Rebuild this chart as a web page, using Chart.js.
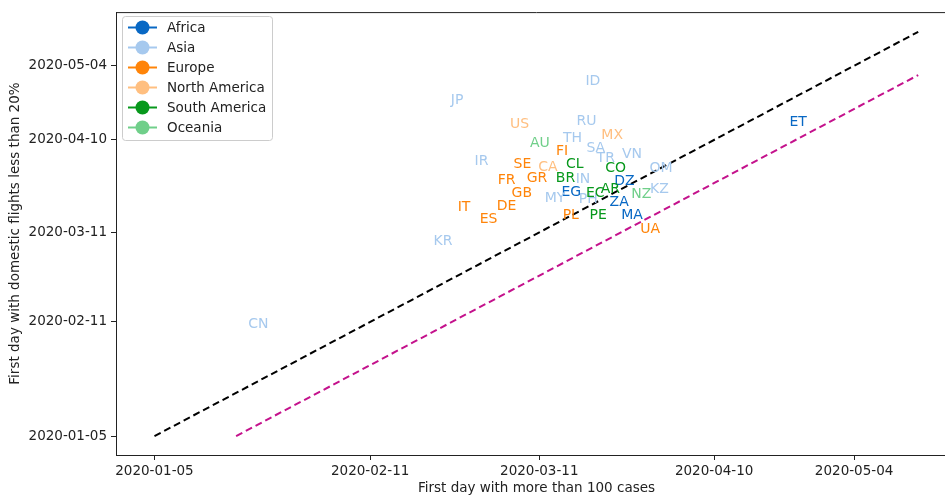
<!DOCTYPE html>
<html>
<head>
<meta charset="utf-8">
<script src="https://cdn.jsdelivr.net/npm/chart.js@4.4.0/dist/chart.umd.min.js"></script>
<style>
  html, body { margin: 0; padding: 0; background: #fff; overflow: hidden; }
</style>
</head>
<body>
<canvas id="chart" width="957" height="500"></canvas>
<script>
// all values are days counted from 2020-01-05
const tickDays = [0, 37, 66, 96, 120];
const tickLabels = ['2020-01-05', '2020-02-11', '2020-03-11', '2020-04-10', '2020-05-04'];

const continents = ['Africa', 'Asia', 'Europe', 'North America', 'South America', 'Oceania'];
const continentColors = ['#0868c4', '#a6c9ee', '#ff8409', '#ffbf80', '#07981c', '#70cf8a'];

const africaCodes = ['DZ', 'EG', 'ZA', 'MA', 'ET'];
const africaCases = [80.6, 71.5, 79.7, 81.9, 110.4];
const africaFlights = [82.4, 79.1, 75.9, 71.6, 101.7];

const asiaCodes = ['CN', 'JP', 'ID', 'KR', 'IR', 'RU', 'TH', 'SA', 'TR', 'VN', 'OM', 'IN', 'MY', 'PH', 'KZ'];
const asiaCases = [17.8, 51.9, 75.2, 49.5, 56.1, 74.1, 71.7, 75.7, 77.4, 81.9, 86.9, 73.5, 68.7, 74.4, 86.6];
const asiaFlights = [36.1, 108.7, 114.8, 63.0, 89.0, 101.9, 96.5, 93.1, 89.9, 91.2, 86.9, 83.1, 77.0, 76.7, 79.9];

const europeCodes = ['FI', 'SE', 'FR', 'GR', 'GB', 'IT', 'DE', 'ES', 'PL', 'UA'];
const europeCases = [69.9, 63.1, 60.4, 65.6, 63.0, 53.1, 60.4, 57.3, 71.4, 85.0];
const europeFlights = [92.3, 88.0, 82.9, 83.5, 78.8, 74.0, 74.5, 70.2, 71.6, 67.0];

const northAmericaCodes = ['US', 'MX', 'CA'];
const northAmericaCases = [62.6, 78.5, 67.5];
const northAmericaFlights = [100.9, 97.4, 87.1];

const southAmericaCodes = ['CL', 'CO', 'BR', 'EC', 'AR', 'PE'];
const southAmericaCases = [72.1, 79.1, 70.5, 75.6, 78.2, 76.1];
const southAmericaFlights = [88.0, 86.7, 83.6, 78.6, 79.9, 71.6];

const oceaniaCodes = ['AU', 'NZ'];
const oceaniaCases = [66.1, 83.5];
const oceaniaFlights = [94.8, 78.3];

// reference lines: same day, and flights 14 days earlier
const sameDayX = [0, 131];
const sameDayY = [0, 131];
const lagX = [14, 131];
const lagY = [0, 117];

const groups = [
    [africaCodes, africaCases, africaFlights],
    [asiaCodes, asiaCases, asiaFlights],
    [europeCodes, europeCases, europeFlights],
    [northAmericaCodes, northAmericaCases, northAmericaFlights],
    [southAmericaCodes, southAmericaCases, southAmericaFlights],
    [oceaniaCodes, oceaniaCases, oceaniaFlights]
];

const FONT = 'DejaVu Sans';

function toPoints(xs, ys) {
    return xs.map(function (x, i) { return { x: x, y: ys[i] }; });
}

const datasets = [
    {
        type: 'line', label: 'same day', data: toPoints(sameDayX, sameDayY),
        borderColor: '#000', borderWidth: 2, borderDash: [7, 4], pointRadius: 0, fill: false
    },
    {
        type: 'line', label: 'lag', data: toPoints(lagX, lagY),
        borderColor: '#c4128c', borderWidth: 2, borderDash: [7, 4], pointRadius: 0, fill: false
    }
];
groups.forEach(function (g, i) {
    datasets.push({
        type: 'scatter', label: continents[i], codes: g[0],
        data: toPoints(g[1], g[2]),
        backgroundColor: continentColors[i], pointRadius: 0, pointHoverRadius: 0
    });
});

// draw the country codes at the points
const codeLabels = {
    id: 'codeLabels',
    afterDatasetsDraw(chart) {
        const ctx = chart.ctx;
        ctx.save();
        ctx.font = '14px "' + FONT + '"';
        ctx.textAlign = 'center';
        ctx.textBaseline = 'middle';
        chart.data.datasets.forEach(function (ds, di) {
            if (!ds.codes) return;
            const meta = chart.getDatasetMeta(di);
            ctx.fillStyle = ds.backgroundColor;
            meta.data.forEach(function (pt, i) {
                ctx.fillText(ds.codes[i], pt.x, pt.y);
            });
        });
        ctx.restore();
    }
};

// top spine + legend box in the upper left corner
const frameAndLegend = {
    id: 'frameAndLegend',
    afterDraw(chart) {
        const ctx = chart.ctx;
        const a = chart.chartArea;
        ctx.save();
        ctx.strokeStyle = '#222';
        ctx.lineWidth = 1;
        ctx.beginPath();
        ctx.moveTo(a.left, a.top + 0.5);
        ctx.lineTo(a.right, a.top + 0.5);
        ctx.stroke();

        const bx = 122.5, by = 16.5, bw = 150, bh = 124;
        ctx.fillStyle = 'rgba(255,255,255,0.85)';
        ctx.strokeStyle = '#cccccc';
        ctx.beginPath();
        ctx.roundRect(bx, by, bw, bh, 3);
        ctx.fill();
        ctx.stroke();

        ctx.font = '13.5px "' + FONT + '"';
        ctx.textBaseline = 'middle';
        ctx.textAlign = 'left';
        continents.forEach(function (name, i) {
            const y = 27.5 + i * 20;
            ctx.strokeStyle = continentColors[i];
            ctx.lineWidth = 2;
            ctx.beginPath();
            ctx.moveTo(128, y);
            ctx.lineTo(157, y);
            ctx.stroke();
            ctx.fillStyle = continentColors[i];
            ctx.beginPath();
            ctx.arc(142.5, y, 7, 0, Math.PI * 2);
            ctx.fill();
            ctx.fillStyle = '#222';
            ctx.fillText(name, 167, y + 1);
        });
        ctx.restore();
    }
};

const tickFont = { family: FONT, size: 13.5 };

new Chart(document.getElementById('chart'), {
    data: { datasets: datasets },
    options: {
        responsive: false,
        animation: false,
        layout: { padding: { top: 10, left: 0, right: 0, bottom: 0 } },
        plugins: { legend: { display: false }, tooltip: { enabled: false } },
        scales: {
            x: {
                type: 'linear',
                min: -6.6,
                max: 137.65,
                afterFit: function (s) { s.height = 45; },
                afterBuildTicks: function (s) {
                    s.ticks = tickDays.map(function (v) { return { value: v }; });
                },
                ticks: {
                    autoSkip: false, maxRotation: 0, padding: 3, color: '#222', font: tickFont,
                    callback: function (v, i) { return tickLabels[i]; }
                },
                grid: { drawOnChartArea: false, tickLength: 5, tickColor: '#222' },
                border: { color: '#222', width: 1 },
                title: {
                    display: true, text: 'First day with more than 100 cases',
                    color: '#222', font: tickFont, padding: { top: 0, bottom: 3 }
                }
            },
            y: {
                type: 'linear',
                min: -6.13,
                max: 137.4,
                afterFit: function (s) { s.width = 116; },
                afterBuildTicks: function (s) {
                    s.ticks = tickDays.map(function (v) { return { value: v }; });
                },
                ticks: {
                    autoSkip: false, padding: 4, color: '#222', font: tickFont,
                    callback: function (v, i) { return tickLabels[i]; }
                },
                grid: { drawOnChartArea: false, tickLength: 5, tickColor: '#222' },
                border: { color: '#222', width: 1 },
                title: {
                    display: true, text: 'First day with domestic flights less than 20%',
                    color: '#222', font: tickFont, padding: { top: 7, bottom: 0 }
                }
            }
        }
    },
    plugins: [codeLabels, frameAndLegend]
});
</script>
</body>
</html>
